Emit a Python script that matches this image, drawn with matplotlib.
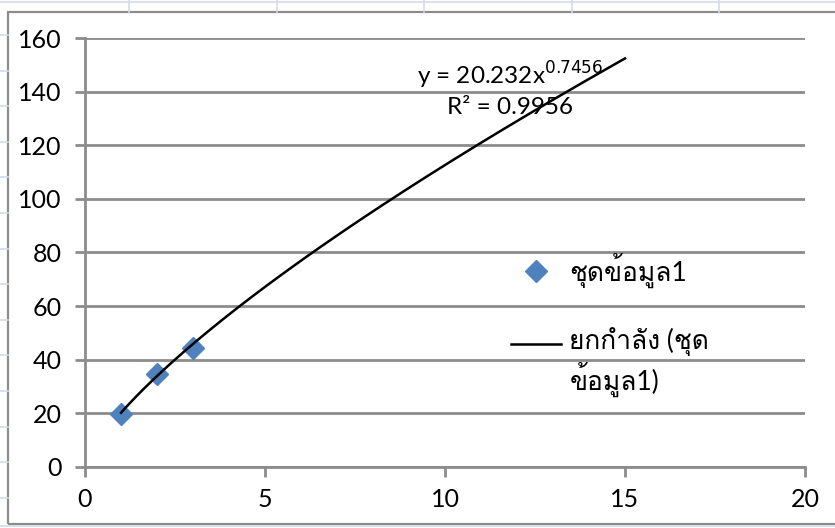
import matplotlib
matplotlib.use('Agg')
import matplotlib.pyplot as plt
from matplotlib import font_manager
from matplotlib.ft2font import FT2Font
from matplotlib.lines import Line2D
from matplotlib.patches import Rectangle
import numpy as np

# data
x_data = [1, 2, 3]
y_data = [19.8, 34.5, 44.5]
series_label = 'ชุดข้อมูล1'
trend_label = 'ยกกำลัง (ชุด\nข้อมูล1)'
trend_a = 20.232
trend_b = 0.7456
trend_x_end = 15
x_ticks = [0, 5, 10, 15, 20]
y_ticks = [0, 20, 40, 60, 80, 100, 120, 140, 160]


def find_thai_font():
  seen = set()
  for f in font_manager.fontManager.ttflist:
    if f.name in seen:
      continue
    try:
      cmap = FT2Font(f.fname).get_charmap()
    except Exception:
      continue
    if 0x0E0A in cmap and 0x0E38 in cmap:
      return f.name
    seen.add(f.name)
  return None

thai = find_thai_font()
fams = ['Lato', 'DejaVu Sans']
if thai:
  fams = ['Lato', thai, 'DejaVu Sans']
plt.rcParams['font.family'] = fams

W, H = 835, 528
fig = plt.figure(figsize=(W / 100, H / 100), dpi=100)

# spreadsheet cells behind the chart
cell = '#d4dbe8'
for xv in [129, 277, 424, 572, 719]:
  fig.add_artist(Line2D([xv / W, xv / W], [1, 1 - 12 / H], color=cell, lw=1.2))
fig.add_artist(Line2D([0, 1], [1 - 2 / H, 1 - 2 / H], color=cell, lw=1.2))
for yv in np.arange(35, 528, 35.6):
  fig.add_artist(Line2D([0, 8 / W], [1 - yv / H, 1 - yv / H], color=cell, lw=1.2))
fig.add_artist(Line2D([0, 1], [1 - 526 / H, 1 - 526 / H], color=cell, lw=1.2))
fig.add_artist(Rectangle((8 / W, 1 - 524 / H), 1, 512 / H, fill=False,
                         edgecolor='#8c8c8c', lw=1.6))

ax = fig.add_axes([85 / W, 1 - 467 / H, 720 / W, 429 / H])

tx = np.linspace(x_data[0], trend_x_end, 200)
ty = trend_a * tx ** trend_b
ax.plot(x_data, y_data, 'D', color='#4f81bd', ms=11.5, label=series_label, zorder=3)
ax.plot(tx, ty, '-', color='black', lw=1.8, label=trend_label, zorder=4)

ax.set_xlim(0, 20)
ax.set_ylim(0, 160)
ax.set_xticks(x_ticks)
ax.set_yticks(y_ticks)
ax.tick_params(labelsize=18, color='#8c8c8c', width=2, length=7)
ax.tick_params(axis='y', pad=10)
ax.tick_params(axis='x', pad=8)
ax.grid(True, axis='y', color='#8c8c8c', lw=2)
for s in ['top', 'right']:
  ax.spines[s].set_visible(False)
for s in ['left', 'bottom']:
  ax.spines[s].set_color('#8c8c8c')
  ax.spines[s].set_linewidth(2)
ax.set_axisbelow(True)

ax.text(11.8, 146, 'y = 20.232x$^{0.7456}$', fontsize=17.5, ha='center', va='center')
ax.text(11.8, 134, 'R² = 0.9956', fontsize=17.5, ha='center', va='center')

leg = ax.legend(loc='upper left', bbox_to_anchor=(0.559, 0.555), frameon=False,
                fontsize=19, labelspacing=1.5, handlelength=1.9, handletextpad=0.3)
# keep the trend line handle level with the first line of its label
ln = leg.get_lines()[1]
ln.set_ydata(np.asarray(ln.get_ydata()) + 14)

plt.savefig('out.png', dpi=100)
